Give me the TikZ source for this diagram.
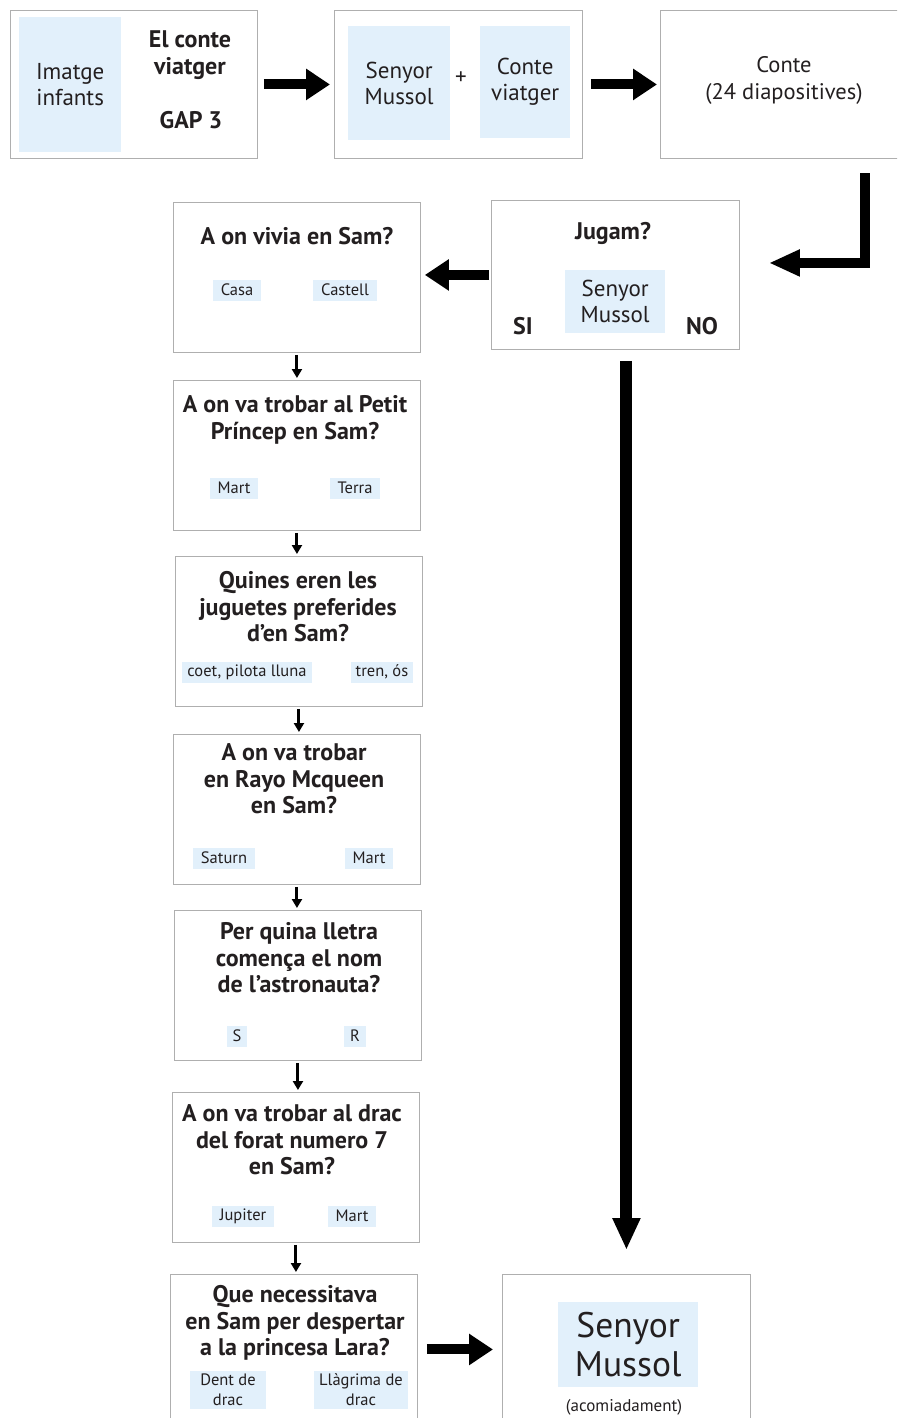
\documentclass[tikz,border=0pt]{standalone}
\usepackage{fontspec}
\setmainfont{PT Sans}
\usepackage{xcolor}
\usetikzlibrary{positioning,calc,arrows.meta}

\definecolor{boxline}{RGB}{175,175,175}
\definecolor{optblue}{RGB}{226,240,251}
\definecolor{inktext}{RGB}{35,31,32}

\tikzset{
    panel/.style={draw=boxline, line width=0.9pt, fill=white, anchor=north west, inner sep=0pt,
        minimum width=247pt, minimum height=150pt},
    bluebox/.style={fill=optblue, anchor=north west, inner sep=0pt, align=center, text=inktext,
        font=\fontsize{23}{26}\selectfont},
    toptext/.style={align=center, text=inktext, inner sep=0pt, font=\fontsize{22.5}{27}\selectfont},
    qtitle/.style={align=center, text=inktext, inner sep=0pt, font=\bfseries\fontsize{24}{26.5}\selectfont},
    choice/.style={fill=optblue, align=center, text=inktext, inner xsep=8pt, inner ysep=3pt,
        minimum height=21pt, font=\fontsize{16.5}{20}\selectfont},
    fatarrow/.style={line width=10pt, -{Triangle[length=24pt,width=30pt]}},
    elbowarrow/.style={line width=10pt, -{Triangle[length=31pt,width=25pt]}},
    longarrow/.style={line width=12pt, -{Triangle[length=32pt,width=26pt]}},
    thinarrow/.style={line width=3pt, -{Triangle[length=9pt,width=10pt]}}
}

\begin{document}
\begin{tikzpicture}[x=1pt, y=-1pt]
    \useasboundingbox (0,0) rectangle (897,1418);
    \clip (0,0) rectangle (897,1418);

    % Top row
    \node [panel, minimum width=247pt, minimum height=148pt] (intro) at (10,10) {};
    \node [bluebox, minimum width=102pt, minimum height=135pt] (imatge) at (19,17) {Imatge\\infants};
    \node [qtitle, font=\bfseries\fontsize{24}{27}\selectfont] (contetitle) at (190,55) {El conte\\viatger};
    \node [qtitle, font=\bfseries\fontsize{24}{27}\selectfont] (gap) at (191,120) {GAP 3};

    \node [panel, minimum width=248pt, minimum height=148pt] (combo) at (334,10) {};
    \node [bluebox, minimum width=102pt, minimum height=114pt] (mussolA) at (348,26) {Senyor\\Mussol};
    \node [bluebox, minimum width=90pt, minimum height=112pt] (viatger) at (480,26) {Conte\\viatger};
    \node [toptext, font=\fontsize{23}{24}\selectfont] (plus) at (461,78) {+};

    \node [panel, minimum width=240pt, minimum height=148pt] (story) at (660,10) {};
    \node [toptext] (storytext) at (784,80) {Conte\\(24 diapositives)};

    \draw [fatarrow, shorten <=6pt, shorten >=4pt] (intro) -- (combo);
    \draw [fatarrow, shorten <=8pt, shorten >=3pt] (combo) -- (story);

    % Game choice
    \node [panel, minimum width=248pt, minimum height=149pt] (jugam) at (491,200) {};
    \node [qtitle] (jugamtitle) at (613,233) {Jugam?};
    \node [bluebox, minimum width=100pt, minimum height=63pt] (mussolB) at (565,270) {Senyor\\Mussol};
    \node [qtitle] (si) at (523,326) {SI};
    \node [qtitle] (no) at (702,326) {NO};

    \coordinate (elbowstart) at (865,173);
    \draw [elbowarrow, shorten >=29pt] (elbowstart) |- ([yshift=12pt]jugam.east);

    % Questions
    \foreach \nm/\x/\y in {q1/173/202, q2/173/380, q3/175/556, q4/173/734, q5/174/910, q6/172/1092, q7/170/1274}
        \node [panel] (\nm) at (\x,\y) {};

    \node [qtitle] (q1title) at (297,236) {A on vivia en Sam?};
    \node [choice] (q1a) at (237,290) {Casa};
    \node [choice] (q1b) at (345,290) {Castell};

    \node [qtitle] (q2title) at (295,420) {A on va trobar al Petit\\Príncep en Sam?};
    \node [choice] (q2a) at (234,488) {Mart};
    \node [choice] (q2b) at (355,488) {Terra};

    \node [qtitle] (q3title) at (298,607) {Quines eren les\\juguetes preferides\\d’en Sam?};
    \node [choice, inner xsep=5pt] (q3a) at (247,672) {coet, pilota lluna};
    \node [choice, inner xsep=5pt] (q3b) at (382,672) {tren, ós};

    \node [qtitle] (q4title) at (294,779) {A on va trobar\\en Rayo Mcqueen\\en Sam?};
    \node [choice] (q4a) at (224,858) {Saturn};
    \node [choice] (q4b) at (369,858) {Mart};

    \node [qtitle] (q5title) at (299,958) {Per quina lletra\\comença el nom\\de l’astronauta?};
    \node [choice, inner xsep=6pt] (q5a) at (237,1036) {S};
    \node [choice, inner xsep=6pt] (q5b) at (355,1036) {R};

    \node [qtitle] (q6title) at (292,1140) {A on va trobar al drac\\del forat numero 7\\en Sam?};
    \node [choice] (q6a) at (243,1216) {Jupiter};
    \node [choice] (q6b) at (352,1216) {Mart};

    \node [qtitle] (q7title) at (295,1323) {Que necessitava\\en Sam per despertar\\a la princesa Lara?};
    \node [choice, minimum width=76pt] (q7a) at (228,1390) {Dent de\\drac};
    \node [choice, minimum width=94pt, inner xsep=5pt] (q7b) at (361,1390) {Llàgrima de\\drac};

    \foreach \a/\b in {q1/q2, q2/q3, q3/q4, q4/q5, q5/q6, q6/q7}
        \draw [thinarrow, shorten <=2pt, shorten >=2pt] (\a.south) -- (\a.south |- \b.north);

    % Ending
    \node [panel, minimum width=248pt, minimum height=150pt] (final) at (502,1274) {};
    \node [bluebox, minimum width=140pt, minimum height=85pt, font=\fontsize{35.5}{39}\selectfont] (mussolC) at (558,1302) {Senyor\\Mussol};
    \node [toptext, font=\fontsize{17}{18}\selectfont] (bye) at (624,1407) {(acomiadament)};

    \draw [fatarrow, shorten <=2pt, shorten >=4pt] (jugam.west) -- (jugam.west -| q1.east);
    \draw [longarrow, shorten <=11pt, shorten >=24pt] (jugam.south -| final.north) -- (final.north);
    \draw [fatarrow, shorten <=9pt, shorten >=9pt] (q7.east) -- (q7.east -| final.west);
\end{tikzpicture}
\end{document}
